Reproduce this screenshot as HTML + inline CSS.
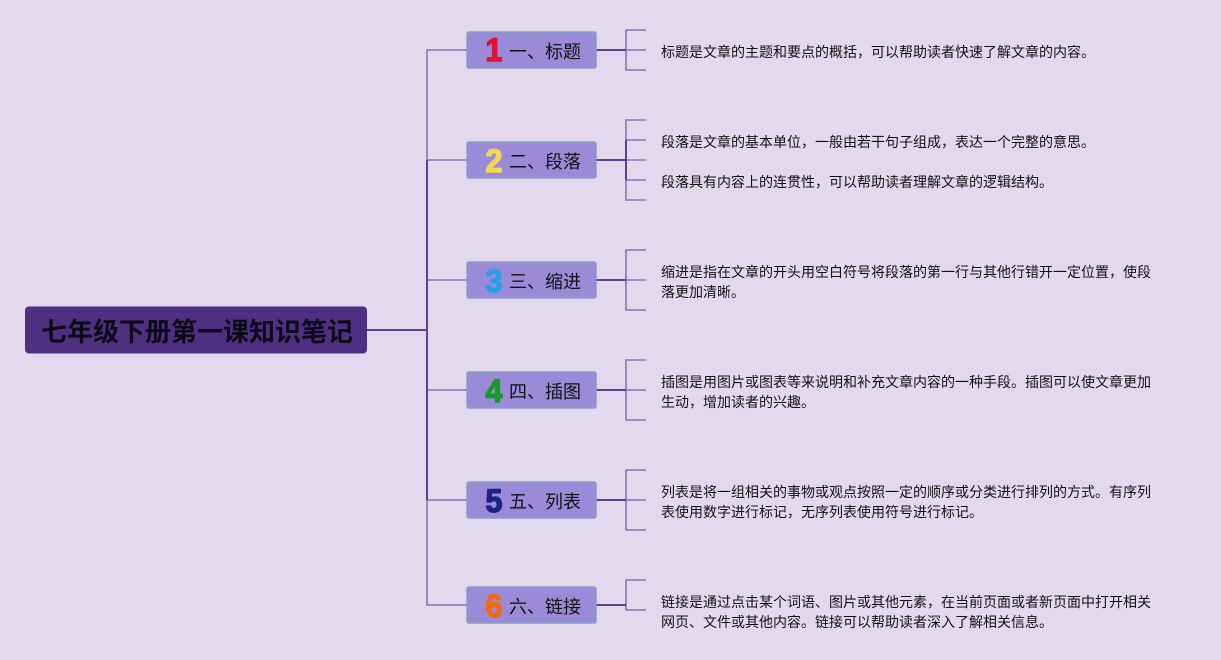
<!DOCTYPE html>
<html lang="zh"><head><meta charset="utf-8"><title>七年级下册第一课知识笔记</title>
<style>
html,body{margin:0;padding:0;background:#e2d9ee;width:1221px;height:660px;overflow:hidden}
svg{display:block}
text{font-family:"Liberation Sans","Noto Sans CJK SC",sans-serif;fill:#111}
.t{font-size:14px}
.l{font-size:18px}
.n{font-size:32px;font-weight:bold;text-anchor:middle;stroke-width:1.4;stroke-linejoin:round}
.b{fill:#9a8ad8;stroke:#8a9cc4;stroke-width:1.5}
.thin{fill:none;stroke:#8a72b4;stroke-width:1.6}
.main{fill:none;stroke:#5f3f90;stroke-width:2}
</style></head><body>
<svg width="1221" height="660" viewBox="0 0 1221 660" xmlns="http://www.w3.org/2000/svg">
<rect width="1221" height="660" fill="#e2d9ee"/>
<!-- trunk -->
<path class="thin" d="M467 50H427V605H467"/>
<path class="thin" d="M427 160H467M427 280H467M427 390H467M427 500H467"/>
<path class="main" d="M427 160V500M366 330H427"/>
<!-- right brackets -->
<path class="thin" d="M646 30H626V70H646M626 50H646"/>
<path class="thin" d="M646 120H626V200H646M626 140H646M626 160H646M626 180H646"/>
<path class="thin" d="M646 250H626V310H646M626 280H646"/>
<path class="thin" d="M646 360H626V420H646M626 390H646"/>
<path class="thin" d="M646 470H626V530H646M626 500H646"/>
<path class="thin" d="M646 580H626V610H646"/>
<path class="main" d="M596 50H626M596 160H626M596 280H626M596 390H626M596 500H626M596 605H626"/>
<path class="main" d="M626 140V180"/>
<!-- root -->
<rect x="25" y="306.500" width="342" height="47" rx="4" fill="#4f2f82"/>
<text x="41" y="341" style="font-size:26px;font-weight:bold;fill:#0d0a18">七年级下册第一课知识笔记</text>
<!-- boxes -->
<rect class="b" x="467" y="32" width="129" height="36" rx="2"/>
<rect class="b" x="467" y="142" width="129" height="36" rx="2"/>
<rect class="b" x="467" y="262" width="129" height="36" rx="2"/>
<rect class="b" x="467" y="372" width="129" height="36" rx="2"/>
<rect class="b" x="467" y="482" width="129" height="36" rx="2"/>
<rect class="b" x="467" y="587" width="129" height="36" rx="2"/>
<!-- numbers -->
<text class="n" transform="translate(494,61) scale(.95,1)" style="fill:#e0142f;stroke:#e0142f">1</text>
<text class="n" transform="translate(494,172) scale(.95,1)" style="fill:#f2d94e;stroke:#f2d94e">2</text>
<text class="n" transform="translate(494,292) scale(.95,1)" style="fill:#2a9fe6;stroke:#2a9fe6">3</text>
<text class="n" transform="translate(494,402) scale(.95,1)" style="fill:#159a26;stroke:#159a26">4</text>
<text class="n" transform="translate(494,512) scale(.95,1)" style="fill:#1c2385;stroke:#1c2385">5</text>
<text class="n" transform="translate(494,617) scale(.95,1)" style="fill:#f46a12;stroke:#f46a12">6</text>
<!-- labels -->
<text class="l" x="509" y="58">一、标题</text>
<text class="l" x="509" y="168">二、段落</text>
<text class="l" x="509" y="288">三、缩进</text>
<text class="l" x="509" y="398">四、插图</text>
<text class="l" x="509" y="508">五、列表</text>
<text class="l" x="509" y="613">六、链接</text>
<!-- descriptions -->
<text class="t" x="661" y="57">标题是文章的主题和要点的概括，可以帮助读者快速了解文章的内容。</text>
<text class="t" x="661" y="147">段落是文章的基本单位，一般由若干句子组成，表达一个完整的意思。</text>
<text class="t" x="661" y="187">段落具有内容上的连贯性，可以帮助读者理解文章的逻辑结构。</text>
<text class="t" x="661" y="277">缩进是指在文章的开头用空白符号将段落的第一行与其他行错开一定位置，使段</text>
<text class="t" x="661" y="297">落更加清晰。</text>
<text class="t" x="661" y="387">插图是用图片或图表等来说明和补充文章内容的一种手段。插图可以使文章更加</text>
<text class="t" x="661" y="407">生动，增加读者的兴趣。</text>
<text class="t" x="661" y="497">列表是将一组相关的事物或观点按照一定的顺序或分类进行排列的方式。有序列</text>
<text class="t" x="661" y="517">表使用数字进行标记，无序列表使用符号进行标记。</text>
<text class="t" x="661" y="607">链接是通过点击某个词语、图片或其他元素，在当前页面或者新页面中打开相关</text>
<text class="t" x="661" y="627">网页、文件或其他内容。链接可以帮助读者深入了解相关信息。</text>
</svg>
</body></html>
